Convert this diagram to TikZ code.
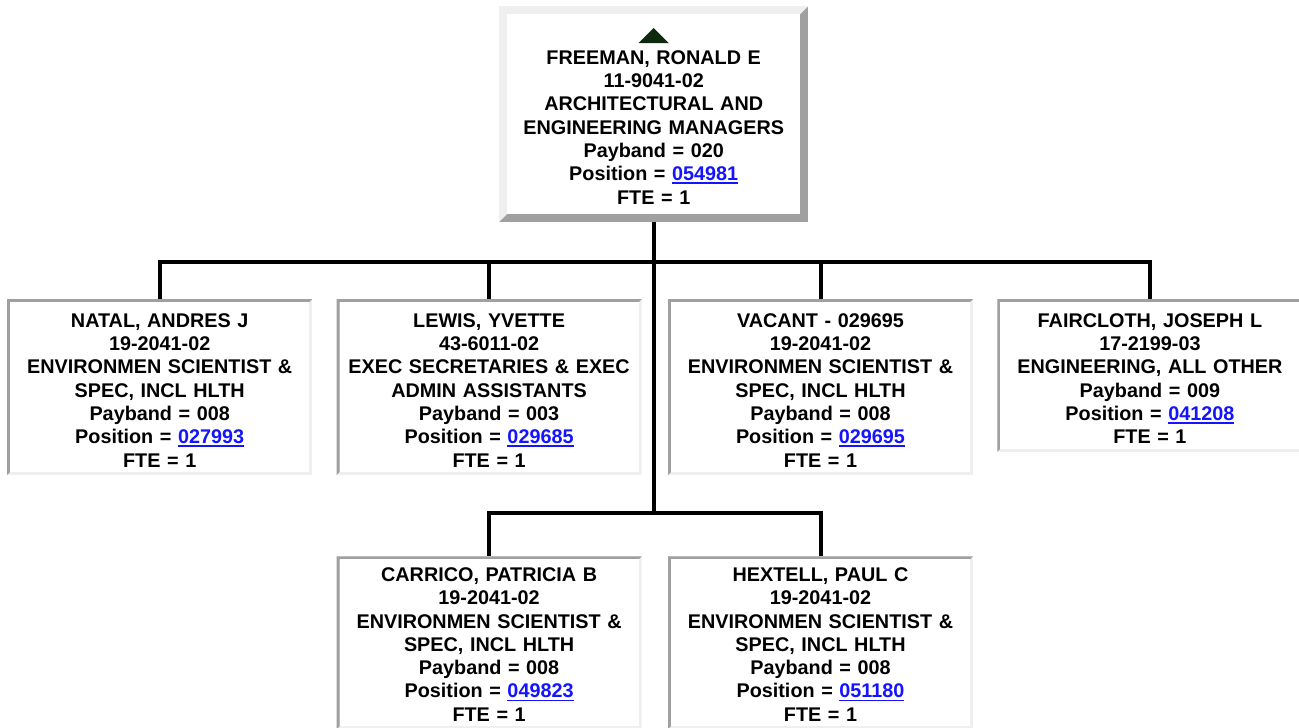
\documentclass[tikz,border=0pt]{standalone}
\usepackage{fontspec}
\setmainfont{Liberation Sans}
\usetikzlibrary{positioning}
\definecolor{BevelDark}{HTML}{A0A0A0}
\definecolor{BevelLight}{HTML}{EFEFEF}
\definecolor{LinkBlue}{HTML}{1414FF}
\definecolor{UpArrow}{HTML}{0E2A0E}
\newsavebox\linkbox
\newcommand\poslink[1]{\textcolor{LinkBlue}{\sbox\linkbox{#1}\rlap{\rule[-3.5pt]{\wd\linkbox}{1.8pt}}\usebox\linkbox}}

\begin{document}
\begin{tikzpicture}[x=1pt,y=-1pt,node distance=24pt,
  orgline/.style={line width=4pt,black},
  bevel/.style n args={3}{path picture={
    \fill[#2] (path picture bounding box.south west) rectangle (path picture bounding box.north east);
    \fill[#1] (path picture bounding box.south west) -- (path picture bounding box.north west)
      -- (path picture bounding box.north east)
      -- ([xshift=-#3,yshift=-#3]path picture bounding box.north east)
      -- ([xshift=#3,yshift=-#3]path picture bounding box.north west)
      -- ([xshift=#3,yshift=#3]path picture bounding box.south west) -- cycle;
    \fill[white] ([xshift=#3,yshift=#3]path picture bounding box.south west)
      rectangle ([xshift=-#3,yshift=-#3]path picture bounding box.north east);}},
  pad/.style 2 args={execute at begin node={\rule{0pt}{#1}},execute at end node={\rule[-#2]{0pt}{#2}}},
  card/.style={fill=white,inner xsep=0pt,inner ysep=0pt,align=center,
    font=\bfseries\fontsize{19.8}{23.3}\selectfont},
  staff/.style={card,bevel={BevelDark}{BevelLight}{3pt},text width=305pt},
  head/.style={card,bevel={BevelLight}{BevelDark}{8pt},text width=309pt,pad={58pt}{18pt}},
  upper/.style={staff,pad={28pt}{8pt}},
  lower/.style={staff,pad={25pt}{8pt}}]
  \useasboundingbox (0,0) rectangle (1299,728);

  % manager
  \node[head,anchor=north west] (mgr) at (499,6) {FREEMAN, RONALD E\\ 11-9041-02\\ ARCHITECTURAL AND\\ ENGINEERING MANAGERS\\ Payband = 020\\ Position = \poslink{054981}\\ FTE = 1};
  \fill[UpArrow] ([yshift=-37pt]mgr.north) ++(-15pt,0pt) -- ++(30pt,0pt) -- ++(-15pt,15pt) -- cycle;

  % first row
  \node[upper,anchor=north west] (natal) at (7,299) {NATAL, ANDRES J\\ 19-2041-02\\ ENVIRONMEN SCIENTIST \&\\ SPEC, INCL HLTH\\ Payband = 008\\ Position = \poslink{027993}\\ FTE = 1};
  \node[upper,below right=0pt and 24pt of natal.north east,anchor=north west] (lewis) {LEWIS, YVETTE\\ 43-6011-02\\ EXEC SECRETARIES \& EXEC\\ ADMIN ASSISTANTS\\ Payband = 003\\ Position = \poslink{029685}\\ FTE = 1};
  \node[upper,below right=0pt and 26pt of lewis.north east,anchor=north west] (vacant) {VACANT - 029695\\ 19-2041-02\\ ENVIRONMEN SCIENTIST \&\\ SPEC, INCL HLTH\\ Payband = 008\\ Position = \poslink{029695}\\ FTE = 1};
  \node[upper,below right=0pt and 24pt of vacant.north east,anchor=north west] (fair) {FAIRCLOTH, JOSEPH L\\ 17-2199-03\\ ENGINEERING, ALL OTHER\\ Payband = 009\\ Position = \poslink{041208}\\ FTE = 1};

  % second row
  \node[lower,below=81pt of lewis] (carrico) {CARRICO, PATRICIA B\\ 19-2041-02\\ ENVIRONMEN SCIENTIST \&\\ SPEC, INCL HLTH\\ Payband = 008\\ Position = \poslink{049823}\\ FTE = 1};
  \node[lower,below=81pt of vacant] (hextell) {HEXTELL, PAUL C\\ 19-2041-02\\ ENVIRONMEN SCIENTIST \&\\ SPEC, INCL HLTH\\ Payband = 008\\ Position = \poslink{051180}\\ FTE = 1};

  % connectors
  \coordinate (bus) at (mgr.south |- 0,262);
  \coordinate (lowbus) at (mgr.south |- 0,513);
  \draw[orgline] (mgr.south) -- (lowbus);
  \draw[orgline] (natal.north) |- (bus) -| (fair.north);
  \draw[orgline] (lewis.north) -- (lewis.north |- bus);
  \draw[orgline] (vacant.north) -- (vacant.north |- bus);
  \draw[orgline] (carrico.north) |- (lowbus) -| (hextell.north);
\end{tikzpicture}
\end{document}
